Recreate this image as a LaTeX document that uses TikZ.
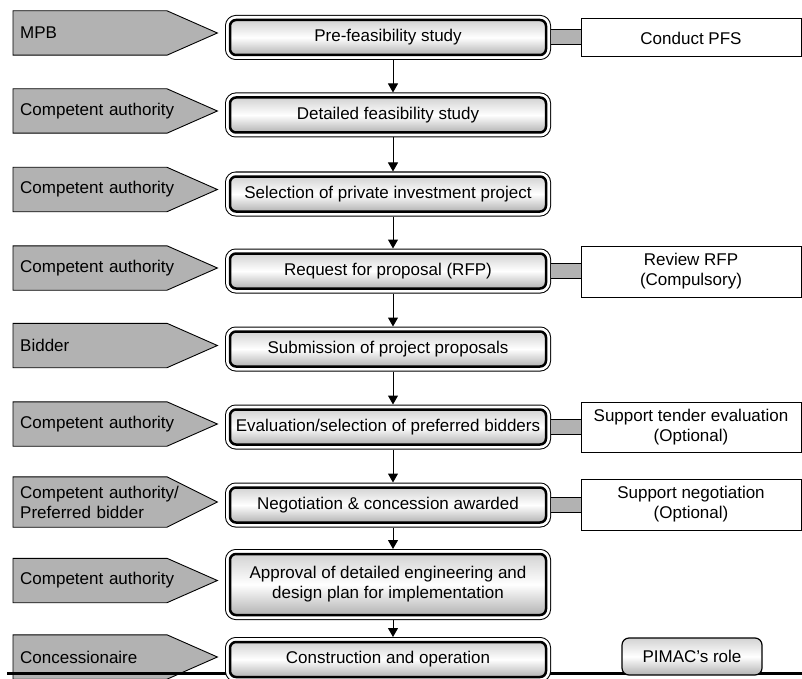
\documentclass[tikz,border=0pt]{standalone}
\usepackage{fontspec}
\setmainfont{Liberation Sans}
\usetikzlibrary{arrows.meta,backgrounds}
\definecolor{tabgray}{gray}{0.7}

\begin{document}
\begin{tikzpicture}[x=1pt,y=-1pt,
  font=\fontsize{17}{20}\selectfont,
  actor/.style={anchor=west, inner xsep=7pt, inner ysep=0pt, text width=190pt,
    align=left, minimum width=204pt, minimum height=44pt},
  actorshape/.style={draw=black, line width=0.9pt, fill=tabgray},
  glossy/.style={top color=gray!35, bottom color=gray!60, middle color=white},
  stage/.style={draw=black, rounded corners=6pt, line width=2.5pt, glossy,
    minimum width=316pt, minimum height=35pt, inner xsep=2pt, inner ysep=0pt,
    outer sep=5pt, align=center,
    preaction={draw=black, line width=10pt},
    preaction={draw=white, line width=8pt}},
  rolebox/.style={draw=black, line width=1pt, fill=white, minimum width=220pt,
    inner sep=2pt, align=center},
  pimac/.style={draw=black, rounded corners=7pt, line width=1.2pt, glossy,
    minimum width=140pt, minimum height=37pt, inner sep=2pt},
  flow/.style={-{Triangle[length=9pt,width=10pt]}, line width=1pt},
  bar/.style={draw=black, line width=1pt, double=tabgray, double distance=14pt}]

\useasboundingbox (0,0) rectangle (802,679);

% process stages
\node[stage] (b1) at (388,37.5) {Pre-feasibility study};
\node[stage] (b2) at (388,115) {Detailed feasibility study};
\node[stage] (b3) at (388,194) {Selection of private investment project};
\node[stage] (b4) at (388,271) {Request for proposal (RFP)};
\node[stage] (b5) at (388,349) {Submission of project proposals};
\node[stage] (b6) at (388,427) {Evaluation/selection of preferred bidders};
\node[stage] (b7) at (388,505) {Negotiation \& concession awarded};
\node[stage, minimum height=61pt] (b8) at (388,584.5)
  {Approval of detailed engineering and\\design plan for implementation};
\node[stage] (b9) at (388,659.5) {Construction and operation};

% responsible parties
\node[actor] (a1) at (13,33) {MPB};
\node[actor] (a2) at (13,111) {Competent authority};
\node[actor] (a3) at (13,189.5) {Competent authority};
\node[actor] (a4) at (13,268) {Competent authority};
\node[actor] (a5) at (13,345.5) {Bidder};
\node[actor] (a6) at (13,424) {Competent authority};
\node[actor, minimum height=50pt] (a7) at (13,502)
  {Competent authority/\\Preferred bidder};
\node[actor] (a8) at (13,580.5) {Competent authority};
\node[actor] (a9) at (13,657) {Concessionaire};

% PIMAC tasks
\node[rolebox, minimum height=38pt] (r1) at (691,38) {Conduct PFS};
\node[rolebox, minimum height=51pt] (r4) at (691,271.5) {Review RFP\\(Compulsory)};
\node[rolebox, minimum height=50pt] (r6) at (691,427)
  {Support tender evaluation\\(Optional)};
\node[rolebox, minimum height=51pt] (r7) at (691,504.5)
  {Support negotiation\\(Optional)};

% legend
\node[pimac] (leg) at (692,656.5) {PIMAC’s role};

% arrow-shaped party tabs and the base rule, behind everything
\begin{scope}[on background layer]
  \foreach \n in {a1,a2,a3,a4,a5,a6,a7,a8,a9}
    \draw[actorshape] (\n.north west) -- ([xshift=154pt]\n.north west)
      -- (\n.east) -- ([xshift=154pt]\n.south west) -- (\n.south west) -- cycle;
  \coordinate (ruleL) at (7,673);
  \coordinate (ruleR) at (802,673);
  \draw[line width=3pt] (ruleL) -- (ruleR);
\end{scope}

% flow between stages
\foreach \i/\j in {b1/b2,b2/b3,b3/b4,b4/b5,b5/b6,b6/b7,b7/b8,b8/b9}
  \draw[flow] ([xshift=5pt]\i.south) -- ([xshift=5pt]\j.north);

% links from stages to PIMAC tasks
\draw[bar] (b1.east) -- (b1.east -| r1.west);
\draw[bar] (b4.east) -- (b4.east -| r4.west);
\draw[bar] (b6.east) -- (b6.east -| r6.west);
\draw[bar] (b7.east) -- (b7.east -| r7.west);

\end{tikzpicture}
\end{document}
